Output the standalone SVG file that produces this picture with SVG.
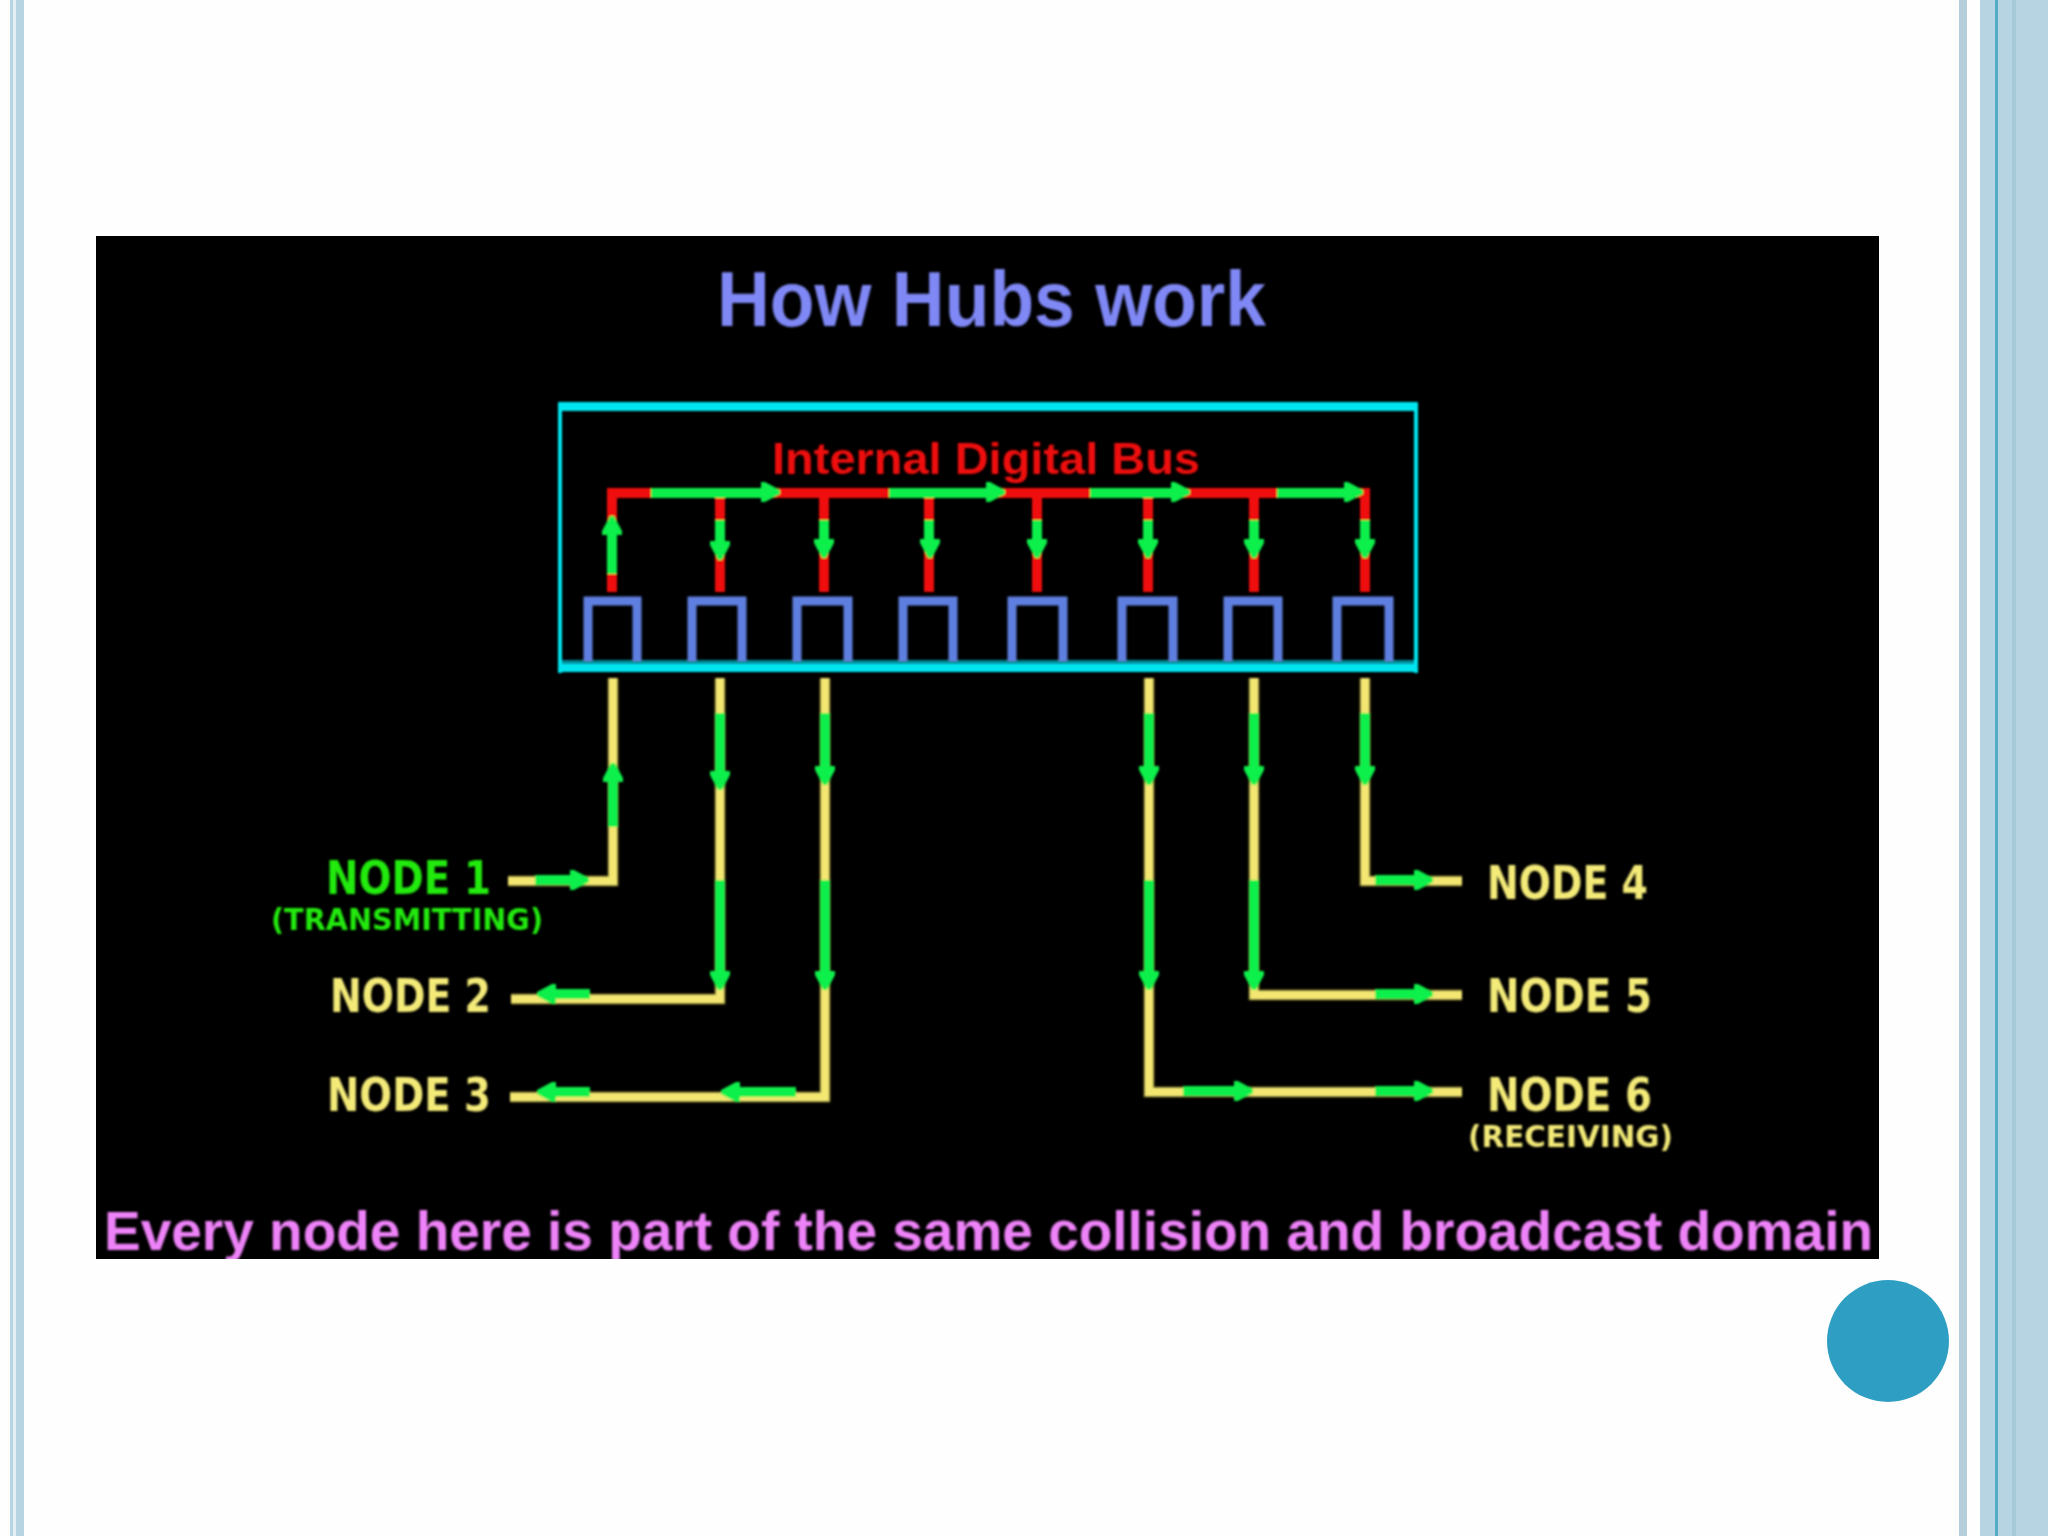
<svg xmlns="http://www.w3.org/2000/svg" xmlns:xlink="http://www.w3.org/1999/xlink" width="2048" height="1536" viewBox="0 0 2048 1536">
<style>
.strip{fill:#b6d4e1}
.wire{fill:none;stroke-linejoin:miter}
.red{stroke:#f00c0c;stroke-width:10}
.edge{stroke:#6f6a2c;stroke-width:11}
.yel{stroke:#f3e771;stroke-width:8}
.grn{stroke:#0ff04c;stroke-width:10;fill:none}
.arr{fill:#0ff04c}
.port{fill:none;stroke:#5f7fe0;stroke-width:9}
.hub{fill:#05e6f0}
.lab{font-family:"DejaVu Sans",Verdana,sans-serif;font-weight:bold}
.big{font-size:46px}
.sm{font-size:30px}
.ar{font-family:"Liberation Sans",Arial,sans-serif;font-weight:bold}
.y{fill:#f3ea78}
.g{fill:#22ea10}
</style>
<defs>
<polygon id="a" points="-10,-4 10,-4 10,0 2,15 -2,15 -10,0"/>
<filter id="soft" x="-2%" y="-2%" width="104%" height="104%"><feGaussianBlur stdDeviation="0.8"/></filter>
<clipPath id="panel"><rect x="96" y="236" width="1783" height="1023"/></clipPath>
<path id="y1" d="M613 678V881H508"/>
<path id="y2" d="M720 678V999H511"/>
<path id="y3" d="M825 678V1097H510"/>
<path id="y4" d="M1365 678V881H1462"/>
<path id="y5" d="M1254 678V995H1462"/>
<path id="y6" d="M1149 678V1092H1462"/>
</defs>

<rect width="2048" height="1536" fill="#fefefe"/>
<g id="page-decor">
<rect class="strip" x="10" y="0" width="3" height="1536"/>
<rect x="13" y="0" width="3" height="1536" fill="#e4f0f5"/>
<rect class="strip" x="16" y="0" width="8" height="1536"/>
<rect x="1959" y="0" width="8" height="1536" fill="#b4cfda"/>
<rect class="strip" x="1980" y="0" width="68" height="1536"/>
<rect x="1995" y="0" width="3" height="1536" fill="#55aac6"/>
<rect x="2012" y="0" width="4" height="1536" fill="#a6cad8"/>
</g>
<rect id="panel-bg" x="96" y="236" width="1783" height="1023" fill="#000"/>

<g clip-path="url(#panel)"><g filter="url(#soft)">
<text id="title" class="ar" x="717" y="326" font-size="77" fill="#7f88f5" textLength="549" lengthAdjust="spacingAndGlyphs">How Hubs work</text>

<g id="hub">
<rect class="hub" x="558" y="402" width="860" height="9"/>
<rect class="hub" x="558" y="402" width="4" height="271"/>
<rect class="hub" x="1414" y="402" width="4" height="271"/>
<rect x="562" y="660" width="852" height="4" fill="#058a96"/>
<rect class="hub" x="558" y="664" width="860" height="8"/>
<text class="ar" x="772" y="474" font-size="44" fill="#f00d0d" textLength="428" lengthAdjust="spacingAndGlyphs">Internal Digital Bus</text>
</g>

<g id="port1"><path class="port" d="M588 661V601H637V661"/></g>
<g id="port2"><path class="port" d="M692 661V601H742V661"/></g>
<g id="port3"><path class="port" d="M797 661V601H848V661"/></g>
<g id="port4"><path class="port" d="M903 661V601H953V661"/></g>
<g id="port5"><path class="port" d="M1012 661V601H1063V661"/></g>
<g id="port6"><path class="port" d="M1122 661V601H1173V661"/></g>
<g id="port7"><path class="port" d="M1228 661V601H1278V661"/></g>
<g id="port8"><path class="port" d="M1337 661V601H1389V661"/></g>

<g id="connectors">
<path class="wire red" d="M612 592V493H1365V592M720 493V592M824 493V592M929 493V592M1037 493V592M1148 493V592M1254 493V592"/>
<g>
<use xlink:href="#y1" href="#y1" class="wire edge"/><use xlink:href="#y2" href="#y2" class="wire edge"/><use xlink:href="#y3" href="#y3" class="wire edge"/><use xlink:href="#y4" href="#y4" class="wire edge"/><use xlink:href="#y5" href="#y5" class="wire edge"/><use xlink:href="#y6" href="#y6" class="wire edge"/>
<use xlink:href="#y1" href="#y1" class="wire yel"/><use xlink:href="#y2" href="#y2" class="wire yel"/><use xlink:href="#y3" href="#y3" class="wire yel"/><use xlink:href="#y4" href="#y4" class="wire yel"/><use xlink:href="#y5" href="#y5" class="wire yel"/><use xlink:href="#y6" href="#y6" class="wire yel"/>
</g>
<path class="grn" d="M651 493H768M889 493H993M1090 493H1178M1277 493H1351"/>
<path class="grn" d="M612 528V574M720 520V546M824 520V544M929 520V544M1037 520V544M1148 520V544M1254 520V544M1365 520V544"/>
<path class="grn" d="M613 775V827M720 713V776M825 713V771M1149 713V771M1254 713V771M1365 713V771"/>
<path class="grn" d="M720 880V976M825 880V976M1149 880V976M1254 880V976"/>
<path class="grn" d="M535 880H575M551 994H590M551 1092H590M735 1092H796M1375 880H1419M1375 994H1419M1183 1091H1239M1375 1091H1419"/>
<g class="arr">
<use xlink:href="#a" href="#a" transform="translate(765 492) rotate(-90)"/>
<use xlink:href="#a" href="#a" transform="translate(990 492) rotate(-90)"/>
<use xlink:href="#a" href="#a" transform="translate(1175 492) rotate(-90)"/>
<use xlink:href="#a" href="#a" transform="translate(1348 492) rotate(-90)"/>
<use xlink:href="#a" href="#a" transform="translate(612 531) rotate(180)"/>
<use xlink:href="#a" href="#a" transform="translate(720 545)"/>
<use xlink:href="#a" href="#a" transform="translate(824 543)"/>
<use xlink:href="#a" href="#a" transform="translate(930 543)"/>
<use xlink:href="#a" href="#a" transform="translate(1037 543)"/>
<use xlink:href="#a" href="#a" transform="translate(1148 543)"/>
<use xlink:href="#a" href="#a" transform="translate(1254 543)"/>
<use xlink:href="#a" href="#a" transform="translate(1365 543)"/>
<use xlink:href="#a" href="#a" transform="translate(613 778) rotate(180)"/>
<use xlink:href="#a" href="#a" transform="translate(720 775)"/>
<use xlink:href="#a" href="#a" transform="translate(825 770)"/>
<use xlink:href="#a" href="#a" transform="translate(1149 770)"/>
<use xlink:href="#a" href="#a" transform="translate(1254 770)"/>
<use xlink:href="#a" href="#a" transform="translate(1365 770)"/>
<use xlink:href="#a" href="#a" transform="translate(720 975)"/>
<use xlink:href="#a" href="#a" transform="translate(825 975)"/>
<use xlink:href="#a" href="#a" transform="translate(1149 975)"/>
<use xlink:href="#a" href="#a" transform="translate(1254 975)"/>
<use xlink:href="#a" href="#a" transform="translate(574 880) rotate(-90)"/>
<use xlink:href="#a" href="#a" transform="translate(552 994) rotate(90)"/>
<use xlink:href="#a" href="#a" transform="translate(552 1092) rotate(90)"/>
<use xlink:href="#a" href="#a" transform="translate(736 1092) rotate(90)"/>
<use xlink:href="#a" href="#a" transform="translate(1418 880) rotate(-90)"/>
<use xlink:href="#a" href="#a" transform="translate(1418 994) rotate(-90)"/>
<use xlink:href="#a" href="#a" transform="translate(1238 1091) rotate(-90)"/>
<use xlink:href="#a" href="#a" transform="translate(1418 1091) rotate(-90)"/>
</g>
</g>

<g id="node1">
<text class="lab big g" x="326" y="894" textLength="165" lengthAdjust="spacingAndGlyphs">NODE 1</text>
<text class="lab sm g" x="271" y="930" textLength="272" lengthAdjust="spacingAndGlyphs">(TRANSMITTING)</text>
</g>
<g id="node2"><text class="lab big y" x="330" y="1012" textLength="161" lengthAdjust="spacingAndGlyphs">NODE 2</text></g>
<g id="node3"><text class="lab big y" x="327" y="1111" textLength="164" lengthAdjust="spacingAndGlyphs">NODE 3</text></g>
<g id="node4"><text class="lab big y" x="1487" y="899" textLength="161" lengthAdjust="spacingAndGlyphs">NODE 4</text></g>
<g id="node5"><text class="lab big y" x="1487" y="1012" textLength="165" lengthAdjust="spacingAndGlyphs">NODE 5</text></g>
<g id="node6">
<text class="lab big y" x="1487" y="1111" textLength="165" lengthAdjust="spacingAndGlyphs">NODE 6</text>
<text class="lab sm y" x="1468" y="1147" textLength="205" lengthAdjust="spacingAndGlyphs">(RECEIVING)</text>
</g>
<text id="caption" class="ar" x="104" y="1250" font-size="55" fill="#ee82f8" textLength="1769" lengthAdjust="spacingAndGlyphs">Every node here is part of the same collision and broadcast domain</text>
</g></g>

<circle id="badge" cx="1888" cy="1341" r="61" fill="#2e9fc2"/>
</svg>
